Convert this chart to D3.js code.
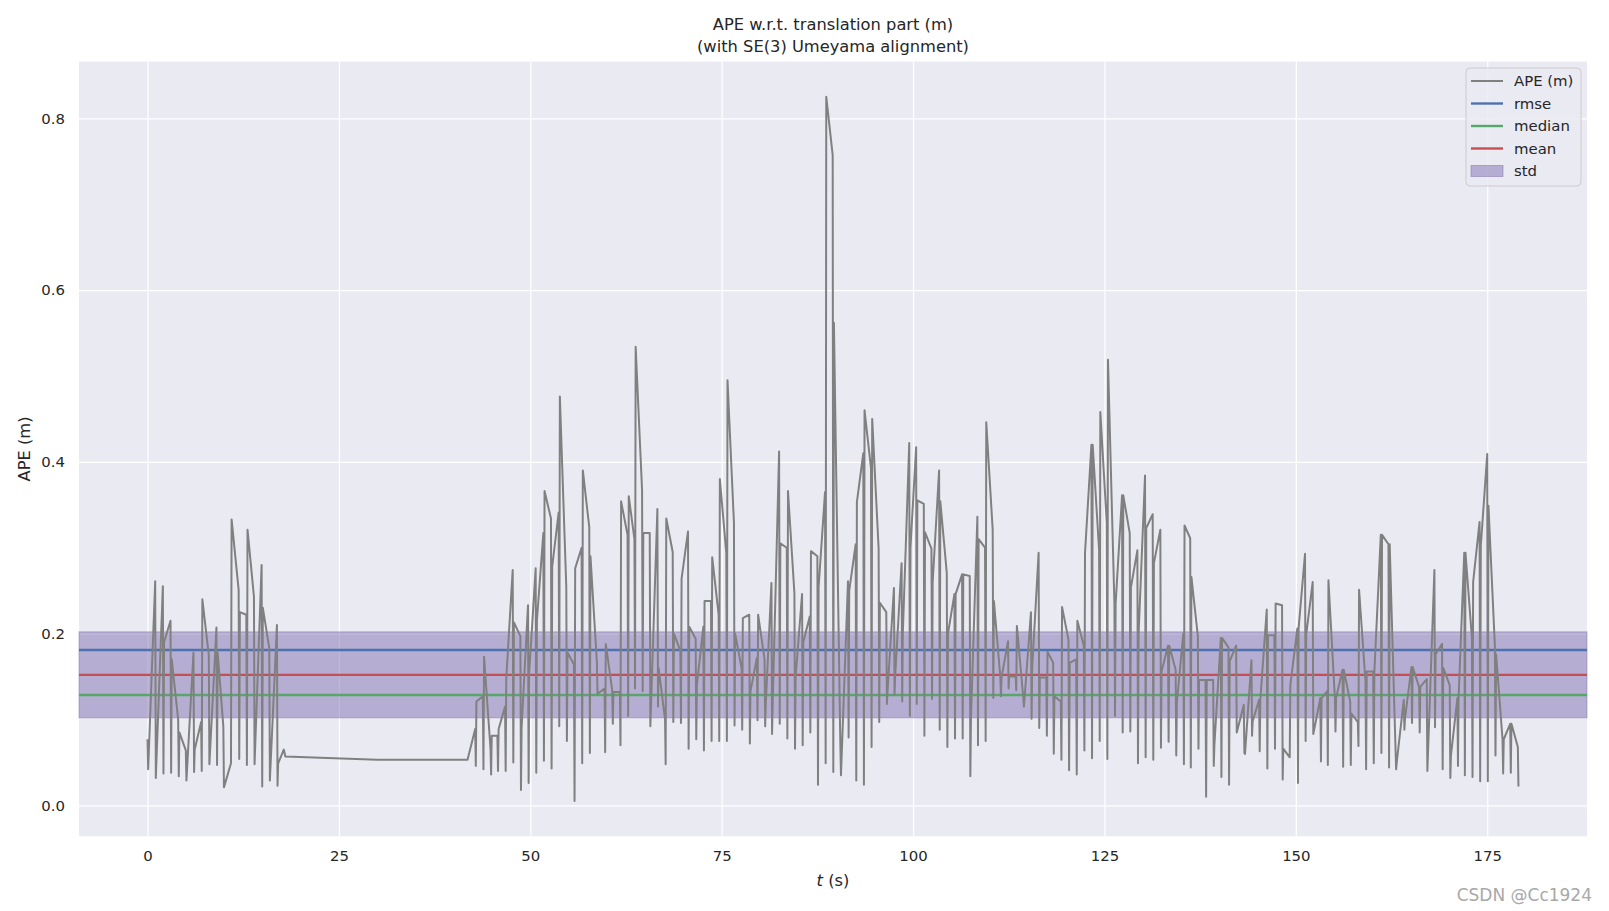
<!DOCTYPE html>
<html>
<head>
<meta charset="utf-8">
<script src="https://cdn.jsdelivr.net/npm/d3@7"></script>
<style>
  body { margin: 0; background: #fff; }
  text { font-family: "DejaVu Sans", sans-serif; fill: #262626; }
</style>
</head>
<body>
<div id="G"></div>
<script>
// stroke times (s): at each one the APE samples come almost together
var strokeTimes = [
  0.0, 1.0, 2.0, 3.0, 4.0, 5.0, 6.0, 7.0, 8.0, 9.0, 9.9, 10.9, 11.9, 12.9, 13.9, 14.9, 15.9, 16.9,
  17.8, 18.0, 30.0, 41.8,
  42.8, 43.8, 44.8, 45.7, 46.7, 47.7, 48.7, 49.7, 50.7, 51.7, 52.7, 53.7, 54.7, 55.7, 56.7, 57.7, 58.7, 59.7,
  60.7, 61.7, 62.7, 63.6, 64.6, 65.6, 66.6, 67.6, 68.6, 69.6, 70.6, 71.6, 72.6, 73.6, 74.6, 75.6, 76.6, 77.6,
  78.6, 79.6, 80.6, 81.5, 82.5, 83.5, 84.5, 85.5, 86.5, 87.5, 88.5, 89.5, 90.5, 91.5, 92.5, 93.5, 94.5, 95.5,
  96.5, 97.5, 98.5, 99.5, 100.4, 101.4, 102.4, 103.4, 104.4, 105.4, 106.4, 107.4, 108.4, 109.4, 110.4, 111.4,
  112.4, 113.4, 114.4, 115.4, 116.4, 117.4, 118.3, 119.3, 120.3, 121.3, 122.3, 123.3, 124.3, 125.3, 126.3,
  127.3, 128.3, 129.3, 130.3, 131.3, 132.3, 133.3, 134.3, 135.3, 136.2, 137.2, 138.2, 139.2, 140.2, 141.2,
  142.2, 143.2, 144.2, 145.2, 146.2, 147.2, 148.2, 149.2, 150.2, 151.2, 152.2, 153.2, 154.1, 155.1, 156.1,
  157.1, 158.1, 159.1, 160.1, 161.1, 162.1, 163.1, 164.1, 165.1, 166.1, 167.1, 168.1, 169.1, 170.1, 171.1,
  172.0, 173.0, 174.0, 175.0, 176.0, 177.0, 178.0, 179.0
];

// APE (m) values at each stroke, in the order they were recorded
var strokeValues = [
  [0.077, 0.042], [0.261, 0.032], [0.255, 0.037, 0.190], [0.215, 0.038, 0.170], [0.100, 0.034, 0.085],
  [0.064, 0.029], [0.178, 0.039, 0.065], [0.097, 0.040, 0.240], [0.175, 0.048], [0.207, 0.047, 0.178],
  [0.092, 0.021], [0.049, 0.333], [0.251, 0.054, 0.225], [0.222, 0.047, 0.321], [0.243, 0.048],
  [0.280, 0.022, 0.230], [0.183, 0.029], [0.210, 0.023, 0.049],
  [0.065], [0.057], [0.053], [0.053],
  [0.089, 0.046, 0.121], [0.127, 0.042, 0.173], [0.066, 0.036, 0.081], [0.081, 0.040, 0.089],
  [0.115, 0.040, 0.148], [0.274, 0.050, 0.213], [0.197, 0.018, 0.090], [0.233, 0.026, 0.155],
  [0.276, 0.038, 0.215], [0.317, 0.052, 0.366], [0.334, 0.043, 0.278], [0.341, 0.092, 0.476],
  [0.254, 0.075, 0.178], [0.164, 0.005, 0.276], [0.300, 0.049, 0.390], [0.324, 0.061, 0.290],
  [0.166, 0.130], [0.136, 0.062, 0.188], [0.134, 0.095, 0.132], [0.132, 0.070, 0.354],
  [0.315, 0.104, 0.360], [0.310, 0.136, 0.534], [0.367, 0.133, 0.317], [0.317, 0.092],
  [0.345, 0.115, 0.160], [0.100, 0.048, 0.334], [0.295, 0.097, 0.200], [0.180, 0.096, 0.264],
  [0.319, 0.066, 0.208], [0.194, 0.077, 0.140], [0.208, 0.064, 0.238], [0.238, 0.075, 0.289],
  [0.222, 0.075, 0.380], [0.294, 0.075, 0.495], [0.329, 0.093, 0.200], [0.160, 0.088, 0.218],
  [0.222, 0.072, 0.133], [0.172, 0.099, 0.222], [0.170, 0.092, 0.118], [0.259, 0.083, 0.117],
  [0.412, 0.095, 0.305], [0.300, 0.078, 0.366], [0.247, 0.066, 0.150], [0.246, 0.070, 0.190],
  [0.220, 0.085, 0.296], [0.290, 0.024, 0.254], [0.365, 0.049, 0.825], [0.757, 0.039, 0.562],
  [0.071, 0.035], [0.261, 0.079, 0.250], [0.304, 0.029, 0.353], [0.410, 0.024, 0.460],
  [0.393, 0.068, 0.450], [0.299, 0.097, 0.236], [0.225, 0.118, 0.132], [0.253, 0.129, 0.150],
  [0.282, 0.121, 0.200], [0.422, 0.104, 0.300], [0.417, 0.118, 0.355], [0.351, 0.081, 0.318],
  [0.299, 0.124, 0.260], [0.390, 0.088, 0.354], [0.271, 0.068, 0.200], [0.246, 0.078, 0.246],
  [0.269, 0.078, 0.269], [0.267, 0.034, 0.100], [0.336, 0.070, 0.310], [0.300, 0.075, 0.446],
  [0.321, 0.125, 0.238], [0.149, 0.127, 0.149], [0.191, 0.136, 0.150], [0.150, 0.134, 0.209],
  [0.125, 0.115], [0.225, 0.101, 0.160], [0.294, 0.090, 0.149], [0.149, 0.081, 0.179],
  [0.166, 0.060, 0.127], [0.121, 0.053, 0.231], [0.193, 0.041, 0.166], [0.170, 0.036, 0.215],
  [0.186, 0.064, 0.294], [0.420, 0.055, 0.420], [0.297, 0.075, 0.458], [0.329, 0.054, 0.519],
  [0.235, 0.104, 0.235], [0.361, 0.085, 0.361], [0.317, 0.086, 0.254], [0.297, 0.049, 0.200],
  [0.384, 0.056, 0.323], [0.339, 0.053, 0.282], [0.321, 0.067, 0.156], [0.186, 0.074, 0.186],
  [0.158, 0.058, 0.120], [0.200, 0.048, 0.326], [0.311, 0.044, 0.266], [0.197, 0.066, 0.146],
  [0.146, 0.010, 0.146], [0.146, 0.046, 0.070], [0.195, 0.033, 0.195], [0.184, 0.024, 0.168],
  [0.186, 0.085], [0.117, 0.061, 0.060], [0.169, 0.081, 0.098], [0.123, 0.063, 0.123],
  [0.228, 0.043, 0.198], [0.198, 0.066, 0.235], [0.233, 0.030, 0.066], [0.056, 0.140],
  [0.206, 0.026, 0.206], [0.293, 0.075, 0.199], [0.260, 0.083], [0.125, 0.051, 0.125],
  [0.133, 0.047, 0.262], [0.125, 0.086, 0.125], [0.158, 0.045, 0.158], [0.121, 0.047, 0.107],
  [0.097, 0.069, 0.251], [0.144, 0.042, 0.156], [0.156, 0.049, 0.156], [0.315, 0.061, 0.315],
  [0.304, 0.044, 0.304], [0.042, 0.050], [0.123, 0.088, 0.101], [0.161, 0.096, 0.161],
  [0.138, 0.085, 0.138], [0.147, 0.040], [0.274, 0.091, 0.176], [0.188, 0.042, 0.160],
  [0.140, 0.032, 0.058], [0.125, 0.046, 0.125], [0.294, 0.035, 0.294], [0.195, 0.033, 0.260],
  [0.330, 0.028, 0.302], [0.409, 0.028, 0.349], [0.186, 0.058, 0.176], [0.077, 0.037, 0.077],
  [0.095, 0.038, 0.095], [0.068, 0.022]
];

// statistics (m)
var rmse = 0.181;
var median = 0.1285;
var mean = 0.152;
var std = 0.050;

var xTicks = [0, 25, 50, 75, 100, 125, 150, 175];
var yTicks = [0.0, 0.2, 0.4, 0.6, 0.8];
var legendNames = ["APE (m)", "rmse", "median", "mean", "std"];
var legendColors = ["#808080", "#4c72b0", "#55a868", "#c44e52", "#8172b2"];

var Border = { top: 61.6, right: 22, bottom: 74.7, left: 79 },
  width = 1609 - Border.left - Border.right,
  height = 911 - Border.top - Border.bottom;

// samples inside one stroke are a few hundredths of a second apart
var Data = [];
strokeTimes.forEach(function (t, i) {
  strokeValues[i].forEach(function (v, j) {
    Data.push({ X: t + j * 0.08, Y: v });
  });
});

var xMin = d3.min(Data, d => d.X), xMax = d3.max(Data, d => d.X);
var yMin = d3.min(Data, d => d.Y), yMax = d3.max(Data, d => d.Y);
var xPad = (xMax - xMin) * 0.05, yPad = (yMax - yMin) * 0.05;

var x = d3.scaleLinear().domain([xMin - xPad, xMax + xPad]).range([0, width]);
var y = d3.scaleLinear().domain([yMin - yPad, yMax + yPad]).range([height, 0]);

var root = d3.select("#G").append("svg")
  .attr("width", 1609)
  .attr("height", 911);

root.append("rect").attr("width", 1609).attr("height", 911).attr("fill", "#fff");

var svg = root.append("g")
  .attr("transform", "translate(" + Border.left + "," + Border.top + ")");

svg.append("rect").attr("width", width).attr("height", height).attr("fill", "#eaeaf2");

// axes with grid
var gx = svg.append("g")
  .attr("transform", "translate(0," + height + ")")
  .call(d3.axisBottom(x).tickValues(xTicks).tickSize(-height).tickPadding(14.5).tickFormat(d3.format("d")));
var gy = svg.append("g")
  .call(d3.axisLeft(y).tickValues(yTicks).tickSize(-width).tickPadding(14).tickFormat(d3.format(".1f")));
[gx, gy].forEach(function (g) {
  g.select(".domain").remove();
  g.selectAll(".tick line").attr("stroke", "#fff").attr("stroke-width", 1.25);
  g.selectAll(".tick text").style("font-size", "14.9px").attr("fill", "#262626");
});

// std band around the mean
svg.append("rect")
  .attr("x", 0).attr("width", width)
  .attr("y", y(mean + std)).attr("height", y(mean - std) - y(mean + std))
  .attr("fill", legendColors[4]).attr("fill-opacity", 0.5)
  .attr("stroke", legendColors[4]).attr("stroke-opacity", 0.5).attr("stroke-width", 1);

// statistics lines
[[rmse, legendColors[1]], [median, legendColors[2]], [mean, legendColors[3]]].forEach(function (s) {
  svg.append("line")
    .attr("x1", 0).attr("x2", width)
    .attr("y1", y(s[0])).attr("y2", y(s[0]))
    .attr("stroke", s[1]).attr("stroke-width", 2.4);
});

// APE line
svg.append("path")
  .datum(Data)
  .attr("fill", "none")
  .attr("stroke", legendColors[0])
  .attr("stroke-width", 2)
  .attr("stroke-linejoin", "round")
  .attr("d", d3.line().x(d => x(d.X)).y(d => y(d.Y)));

// titles and labels
root.append("text").attr("x", 833).attr("y", 29.5).attr("text-anchor", "middle")
  .style("font-size", "16.3px").text("APE w.r.t. translation part (m)");
root.append("text").attr("x", 833).attr("y", 51.5).attr("text-anchor", "middle")
  .style("font-size", "16.3px").text("(with SE(3) Umeyama alignment)");

root.append("text")
  .attr("transform", "translate(30," + (Border.top + height / 2) + ") rotate(-90)")
  .attr("text-anchor", "middle").style("font-size", "16.3px").text("APE (m)");

var xl = root.append("text").attr("x", Border.left + width / 2).attr("y", 886)
  .attr("text-anchor", "middle").style("font-size", "16.3px");
xl.append("tspan").attr("font-style", "italic").text("t");
xl.append("tspan").text(" (s)");

// legend
var lg = root.append("g").attr("transform", "translate(1466,68)");
lg.append("rect").attr("width", 115).attr("height", 118).attr("rx", 4)
  .attr("fill", "#eaeaf2").attr("fill-opacity", 0.8)
  .attr("stroke", "#cccccc").attr("stroke-width", 1);
legendNames.forEach(function (name, i) {
  var cy = 13 + i * 22.5;
  if (i < 4) {
    lg.append("line").attr("x1", 5).attr("x2", 37).attr("y1", cy).attr("y2", cy)
      .attr("stroke", legendColors[i]).attr("stroke-width", i == 0 ? 2 : 2.4);
  } else {
    lg.append("rect").attr("x", 5).attr("y", cy - 5.5).attr("width", 32).attr("height", 11)
      .attr("fill", legendColors[i]).attr("fill-opacity", 0.5)
      .attr("stroke", legendColors[i]).attr("stroke-opacity", 0.5);
  }
  lg.append("text").attr("x", 48).attr("y", cy + 5.2).style("font-size", "14.9px").text(name);
});

// watermark
root.append("text").attr("x", 1592).attr("y", 901).attr("text-anchor", "end")
  .style("font-size", "17px").style("fill", "#a8a8a8").text("CSDN @Cc1924");
</script>
</body>
</html>
